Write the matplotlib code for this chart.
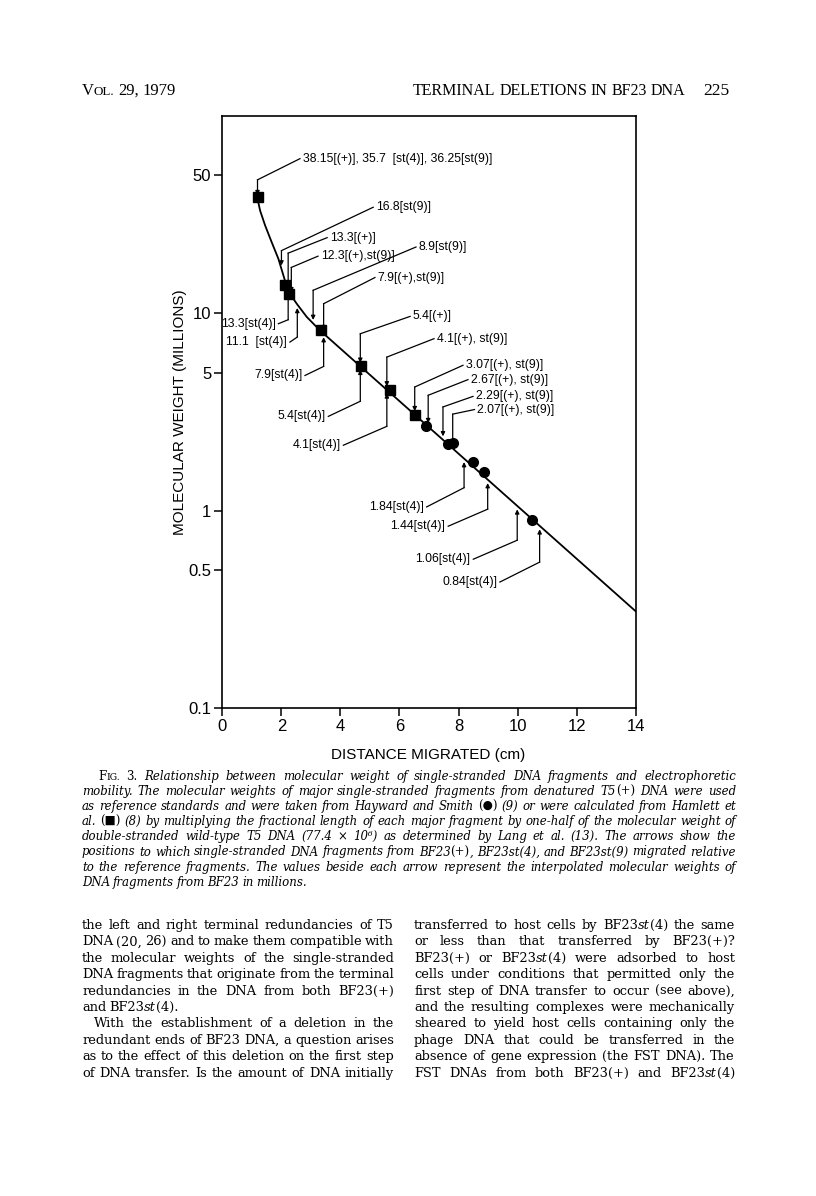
import numpy as np
import matplotlib
matplotlib.use("Agg")
import matplotlib.pyplot as plt
from matplotlib.ticker import NullLocator

W, H = 816, 1196

# reference fragments: Hamlett et al. (squares), Hayward and Smith (circles)
square_x = [1.2, 2.14, 2.26, 3.34, 4.69, 5.67, 6.52]
square_y = [39.0, 13.9, 12.6, 8.2, 5.4, 4.1, 3.05]
circle_x = [6.89, 7.65, 7.8, 8.49, 8.86, 10.48]
circle_y = [2.68, 2.19, 2.2, 1.76, 1.57, 0.90]

# calibration curve as drawn
curve_x = [1.17, 1.28, 1.45, 1.67, 1.9, 2.12, 2.29, 2.52, 2.86, 3.31, 14.0]
curve_y = [39.5, 33.2, 27.9, 23.0, 18.9, 14.7, 12.6, 11.2, 9.6, 8.2, 0.31]

# BF23 fragments, arrows coming from above
above_labels = ["38.15[(+)], 35.7  [st(4)], 36.25[st(9)]", "16.8[st(9)]", "13.3[(+)]",
                "12.3[(+),st(9)]", "8.9[st(9)]", "7.9[(+),st(9)]", "5.4[(+)]",
                "4.1[(+), st(9)]", "3.07[(+), st(9)]", "2.67[(+), st(9)]",
                "2.29[(+), st(9)]", "2.07[(+), st(9)]"]
above_values = [38.15, 16.8, 13.3, 12.3, 8.9, 7.9, 5.4, 4.1, 3.07, 2.67, 2.29, 2.07]
# arrows coming from below
below_labels = ["13.3[st(4)]", "11.1  [st(4)]", "7.9[st(4)]", "5.4[st(4)]", "4.1[st(4)]",
                "1.84[st(4)]", "1.44[st(4)]", "1.06[st(4)]", "0.84[st(4)]"]
below_values = [13.3, 11.1, 7.9, 5.4, 4.1, 1.84, 1.44, 1.06, 0.84]

# label layout: (text x, text y, elbow y)
above_pos = [(2.63, 60.8, 47.5), (5.11, 34.5, 20.8), (3.55, 24.2, 20.2), (3.24, 19.5, 17.1),
             (6.56, 21.7, 13.1), (5.17, 15.2, 11.2), (6.36, 9.66, 7.89), (7.17, 7.45, 6.01),
             (8.15, 5.46, 4.24), (8.32, 4.62, 3.85), (8.49, 3.80, 3.36), (8.54, 3.26, 3.09)]
below_pos = [(1.90, 8.87, 9.29), (2.29, 7.16, 7.59), (2.80, 4.85, 5.39), (3.59, 3.01, 3.59),
             (4.10, 2.15, 2.68), (6.92, 1.047, 1.31), (7.65, 0.836, 1.02), (8.50, 0.569, 0.71),
             (9.40, 0.436, 0.55)]

sans = 'Liberation Sans'
serif = ['DejaVu Serif', 'DejaVu Sans']

fig = plt.figure(figsize=(W / 100, H / 100), dpi=100)
fig.patch.set_facecolor('white')
ax = fig.add_axes([222.3 / W, 1 - 708.3 / H, 413.4 / W, 592.3 / H])

ax.plot(curve_x, curve_y, color='black', lw=1.3)
ax.plot(square_x, square_y, 's', color='black', ms=6.5)
ax.plot(circle_x, circle_y, 'o', color='black', ms=7)

log_cy = np.log10(curve_y)[::-1]
cx = np.array(curve_x)[::-1]


def tip_x(v):
    return np.interp(np.log10(v), log_cy, cx)


def arrow(label, v, tx, ty, ey, side):
    xt = tip_x(v)
    ax.plot([tx, xt], [ty, ey], color='black', lw=0.9)
    ax.annotate('', xy=(xt, v), xytext=(xt, ey),
                arrowprops=dict(arrowstyle='-|>', color='black', lw=0.9,
                                mutation_scale=6, shrinkA=0, shrinkB=2.5))
    off = 2 if side == 'left' else -2
    ax.annotate(label, xy=(tx, ty), xytext=(off, 0), textcoords='offset points',
                ha=side, va='center', fontsize=8.8, family=sans)


for lab, v, p in zip(above_labels, above_values, above_pos):
    arrow(lab, v, p[0], p[1], p[2], 'left')
for lab, v, p in zip(below_labels, below_values, below_pos):
    arrow(lab, v, p[0], p[1], p[2], 'right')

ax.set_yscale('log')
ax.set_xlim(0, 14)
ax.set_ylim(0.1, 100)
ax.set_yticks([0.1, 0.5, 1, 5, 10, 50])
ax.set_yticklabels(['0.1', '0.5', '1', '5', '10', '50'])
ax.yaxis.set_minor_locator(NullLocator())
ax.set_xticks(range(0, 15, 2))
ax.tick_params(direction='out', length=6, width=1.1, labelsize=12, pad=2)
for t in ax.get_xticklabels() + ax.get_yticklabels():
    t.set_family(sans)
for s in ax.spines.values():
    s.set_linewidth(1.2)

fig.text(180 / W, 1 - 412 / H, 'MOLECULAR WEIGHT (MILLIONS)', rotation=90,
         ha='center', va='center', fontsize=11, family=sans)
fig.text(428 / W, 1 - 755 / H, 'DISTANCE MIGRATED (cm)', ha='center', va='center',
         fontsize=11, family=sans)

renderer = fig.canvas.get_renderer()


def parse(line, italic, small):
    words = []
    for raw in line.split():
        pieces, buf = [], ''
        for ch in raw:
            if ch in '*~':
                if buf:
                    pieces.append((buf, italic, small))
                    buf = ''
                if ch == '*':
                    italic = not italic
                else:
                    small = not small
            else:
                buf += ch
        if buf:
            pieces.append((buf, italic, small))
        words.append(pieces)
    return words, italic, small


def draw_word(pieces, x, y, size, family, draw=True):
    start = x
    for s, it, sm in pieces:
        t = fig.text(x / W, 1 - y / H, s, fontsize=size * (0.78 if sm else 1),
                     style='italic' if it else 'normal', family=family, va='baseline')
        x += t.get_window_extent(renderer).width
        if not draw:
            t.remove()
    return x - start


def block(lines, x0, x1, y0, dy, size, family, italic=False):
    small = False
    for i, (line, just, indent) in enumerate(lines):
        words, italic, small = parse(line, italic, small)
        ws = [draw_word(w, 0, 0, size, family, draw=False) for w in words]
        left = x0 + indent
        space = size * 0.32
        if just and len(words) > 1:
            gap = max((x1 - left - sum(ws)) / (len(words) - 1), 1.5)
        else:
            gap = space
        x = left
        y = y0 + i * dy
        for w, wd in zip(words, ws):
            draw_word(w, x, y, size, family)
            x += wd + gap


block([("V~OL.~ 29, 1979", False, 0)], 82, 200, 95, 0, 12, ['Liberation Serif'])
block([("TERMINAL DELETIONS IN BF23 DNA", False, 0)], 413, 690, 95, 0, 11.5, ['Liberation Serif'])
block([("225", False, 0)], 703, 740, 95, 0, 12.5, ['Liberation Serif'])

caption = [
    ("*F~IG.~ 3.* Relationship between molecular weight of single-stranded DNA fragments and electrophoretic", True, 16),
    ("mobility. The molecular weights of major single-stranded fragments from denatured T5*(+)* DNA were used", True, 0),
    ("as reference standards and were taken from Hayward and Smith *(●)* (9) or were calculated from Hamlett et", True, 0),
    ("al. *(■)* (8) by multiplying the fractional length of each major fragment by one-half of the molecular weight of", True, 0),
    ("double-stranded wild-type T5 DNA (77.4 × 10⁶) as determined by Lang et al. (13). The arrows show the", True, 0),
    ("positions to which single-stranded DNA fragments from BF23*(+)*, BF23st(4), and BF23st(9) migrated relative", True, 0),
    ("to the reference fragments. The values beside each arrow represent the interpolated molecular weights of", True, 0),
    ("DNA fragments from BF23 in millions.", False, 0),
]
block(caption, 82, 736, 780, 15.1, 8.5, serif, italic=True)

left_col = [
    ("the left and right terminal redundancies of T5", True, 0),
    ("DNA (20, 26) and to make them compatible with", True, 0),
    ("the molecular weights of the single-stranded", True, 0),
    ("DNA fragments that originate from the terminal", True, 0),
    ("redundancies in the DNA from both BF23(+)", True, 0),
    ("and BF23*st*(4).", False, 0),
    ("With the establishment of a deletion in the", True, 12),
    ("redundant ends of BF23 DNA, a question arises", True, 0),
    ("as to the effect of this deletion on the first step", True, 0),
    ("of DNA transfer. Is the amount of DNA initially", True, 0),
]
right_col = [
    ("transferred to host cells by BF23*st*(4) the same", True, 0),
    ("or less than that transferred by BF23(+)?", True, 0),
    ("BF23(+) or BF23*st*(4) were adsorbed to host", True, 0),
    ("cells under conditions that permitted only the", True, 0),
    ("first step of DNA transfer to occur (see above),", True, 0),
    ("and the resulting complexes were mechanically", True, 0),
    ("sheared to yield host cells containing only the", True, 0),
    ("phage DNA that could be transferred in the", True, 0),
    ("absence of gene expression (the FST DNA). The", True, 0),
    ("FST DNAs from both BF23(+) and BF23*st*(4)", True, 0),
]
block(left_col, 82, 394, 929, 16.4, 9.4, serif)
block(right_col, 414, 735, 929, 16.4, 9.4, serif)

fig.savefig('out.png', dpi=100, facecolor='white')
